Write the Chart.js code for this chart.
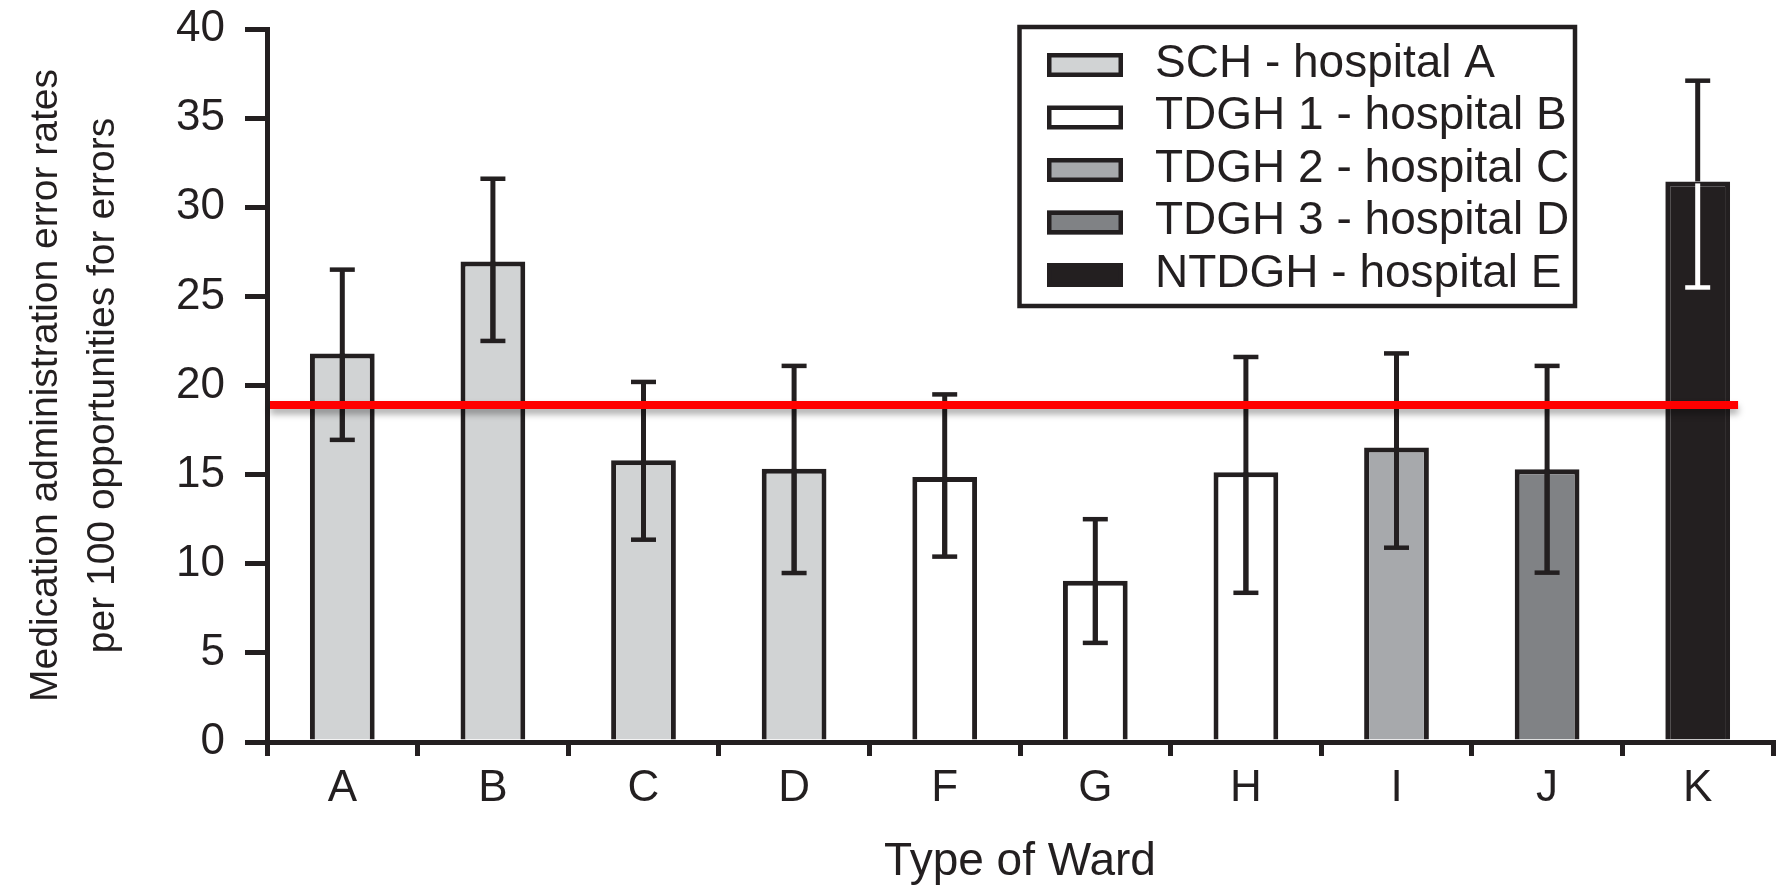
<!DOCTYPE html>
<html>
<head>
<meta charset="utf-8">
<script src="https://cdn.jsdelivr.net/npm/chart.js@4.4.1/dist/chart.umd.min.js"></script>
<style>
  body { margin: 0; background: #fff; }
  #wrap { width: 1785px; height: 885px; position: relative; }
</style>
</head>
<body>
<div id="wrap"><canvas id="chart"></canvas></div>
<script>
// wards and their error rates (per 100 opportunities), with 95% CI
const wards = ['A', 'B', 'C', 'D', 'F', 'G', 'H', 'I', 'J', 'K'];
const errorRates = [21.8, 26.95, 15.8, 15.33, 14.86, 9.04, 15.13, 16.52, 15.3, 31.45];
const ciLow = [16.95, 22.5, 11.35, 9.48, 10.4, 5.56, 8.37, 10.9, 9.5, 25.5];
const ciHigh = [26.5, 31.6, 20.2, 21.1, 19.5, 12.5, 21.6, 21.8, 21.1, 37.1];
const wardHospital = [0, 0, 0, 0, 1, 1, 1, 2, 3, 4];

const hospitals = ['SCH - hospital A', 'TDGH 1 - hospital B', 'TDGH 2 - hospital C', 'TDGH 3 - hospital D', 'NTDGH - hospital E'];
const hospitalColors = ['#d1d3d4', '#ffffff', '#a7a9ac', '#808285', '#231f20'];

const meanRate = 18.9;

const ink = '#231f20';
const fontFamily = "'Liberation Sans', Arial, sans-serif";

// one dataset per hospital, null where the ward belongs to another hospital
const datasets = hospitals.map((name, h) => ({
    label: name,
    data: errorRates.map((v, i) => wardHospital[i] === h ? v : null),
    backgroundColor: hospitalColors[h],
    borderColor: ink,
    borderWidth: 5,
    borderSkipped: 'start',
    barPercentage: 0.43,
    categoryPercentage: 1,
    grouped: false
}));

// error bars, white where they sit inside the dark bar
const errorBars = {
    id: 'errorBars',
    afterDatasetsDraw(chart) {
        const { ctx, scales: { x, y } } = chart;
        const capHalf = 12.5;
        ctx.save();
        ctx.lineCap = 'butt';
        wards.forEach((w, i) => {
            const cx = x.getPixelForValue(i);
            const yHi = y.getPixelForValue(ciHigh[i]);
            const yLo = y.getPixelForValue(ciLow[i]);
            const yBar = y.getPixelForValue(errorRates[i]);
            const dark = wardHospital[i] === 4;

            ctx.strokeStyle = ink;
            ctx.lineWidth = 5;
            ctx.beginPath();
            ctx.moveTo(cx, yHi);
            ctx.lineTo(cx, dark ? yBar : yLo);
            ctx.stroke();
            ctx.lineWidth = 4.5;
            ctx.beginPath();
            ctx.moveTo(cx - capHalf, yHi);
            ctx.lineTo(cx + capHalf, yHi);
            ctx.stroke();

            ctx.strokeStyle = dark ? '#ffffff' : ink;
            ctx.lineWidth = 5;
            ctx.beginPath();
            ctx.moveTo(cx, dark ? yBar + 2 : yBar);
            ctx.lineTo(cx, yLo);
            ctx.stroke();
            ctx.lineWidth = 4.5;
            ctx.beginPath();
            ctx.moveTo(cx - capHalf, yLo);
            ctx.lineTo(cx + capHalf, yLo);
            ctx.stroke();
        });
        ctx.restore();
    }
};

// red mean line with a soft shadow
const meanLine = {
    id: 'meanLine',
    afterDatasetsDraw(chart) {
        const { ctx, chartArea, scales: { x, y } } = chart;
        const yy = y.getPixelForValue(meanRate);
        const last = wards.length - 1;
        const lastBar = chart.getDatasetMeta(wardHospital[last]).data[last];
        const xEnd = lastBar.x + lastBar.width / 2 + 8;
        ctx.save();
        ctx.shadowColor = 'rgba(0,0,0,0.35)';
        ctx.shadowBlur = 7;
        ctx.shadowOffsetY = 5;
        ctx.strokeStyle = '#ff0000';
        ctx.lineWidth = 8;
        ctx.beginPath();
        ctx.moveTo(chartArea.left + 3, yy);
        ctx.lineTo(xEnd, yy);
        ctx.stroke();
        ctx.restore();
    }
};

// boxed legend in the top right corner
const boxLegend = {
    id: 'boxLegend',
    afterDraw(chart) {
        const { ctx } = chart;
        const box = { left: 1019.5, top: 27, right: 1575, bottom: 306 };
        ctx.save();
        ctx.strokeStyle = ink;
        ctx.lineWidth = 4.5;
        ctx.strokeRect(box.left, box.top, box.right - box.left, box.bottom - box.top);

        ctx.font = `46px ${fontFamily}`;
        ctx.textBaseline = 'middle';
        ctx.textAlign = 'left';
        chart.data.datasets.forEach((ds, i) => {
            const cy = 65 + i * 52.5;
            const sw = { x: 1047, y: cy - 12, w: 76, h: 24 };
            ctx.fillStyle = ds.backgroundColor;
            ctx.fillRect(sw.x, sw.y, sw.w, sw.h);
            ctx.lineWidth = 4.5;
            ctx.strokeStyle = ink;
            ctx.strokeRect(sw.x + 2.25, sw.y + 2.25, sw.w - 4.5, sw.h - 4.5);
            ctx.fillStyle = ink;
            ctx.fillText(ds.label, 1155, cy - 1);
        });
        ctx.restore();
    }
};

new Chart(document.getElementById('chart'), {
    type: 'bar',
    data: { labels: wards, datasets: datasets },
    options: {
        responsive: true,
        maintainAspectRatio: false,
        animation: false,
        events: [],
        layout: { padding: { left: 0, top: 29, right: 12, bottom: 0 } },
        plugins: {
            legend: { display: false },
            tooltip: { enabled: false }
        },
        scales: {
            x: {
                offset: true,
                grid: {
                    offset: true,
                    drawOnChartArea: false,
                    drawTicks: true,
                    tickLength: 14,
                    lineWidth: 5,
                    color: ink
                },
                border: { display: true, width: 5, color: ink },
                ticks: {
                    color: ink,
                    padding: 6,
                    font: { family: fontFamily, size: 44 }
                },
                title: {
                    display: true,
                    text: 'Type of Ward',
                    color: ink,
                    padding: { top: 0, bottom: 0 },
                    font: { family: fontFamily, size: 46, lineHeight: 1 }
                },
                afterFit(scale) {
                    scale.height = 143;
                    scale.paddingLeft = 0;
                    scale.paddingRight = 0;
                }
            },
            y: {
                min: 0,
                max: 40,
                ticks: {
                    stepSize: 5,
                    color: ink,
                    padding: 20,
                    font: { family: fontFamily, size: 44 }
                },
                grid: {
                    drawOnChartArea: false,
                    drawTicks: true,
                    tickLength: 22,
                    lineWidth: 5,
                    color: ink
                },
                border: { display: true, width: 5, color: ink },
                title: {
                    display: true,
                    text: ['Medication administration error rates', 'per 100 opportunities for errors'],
                    color: ink,
                    padding: { top: 18, bottom: 0 },
                    font: { family: fontFamily, size: 39, lineHeight: 1.45 }
                },
                afterFit(scale) {
                    scale.width = 267;
                    scale.paddingTop = 0;
                    scale.paddingBottom = 0;
                }
            }
        }
    },
    plugins: [errorBars, meanLine, boxLegend]
});
</script>
</body>
</html>
